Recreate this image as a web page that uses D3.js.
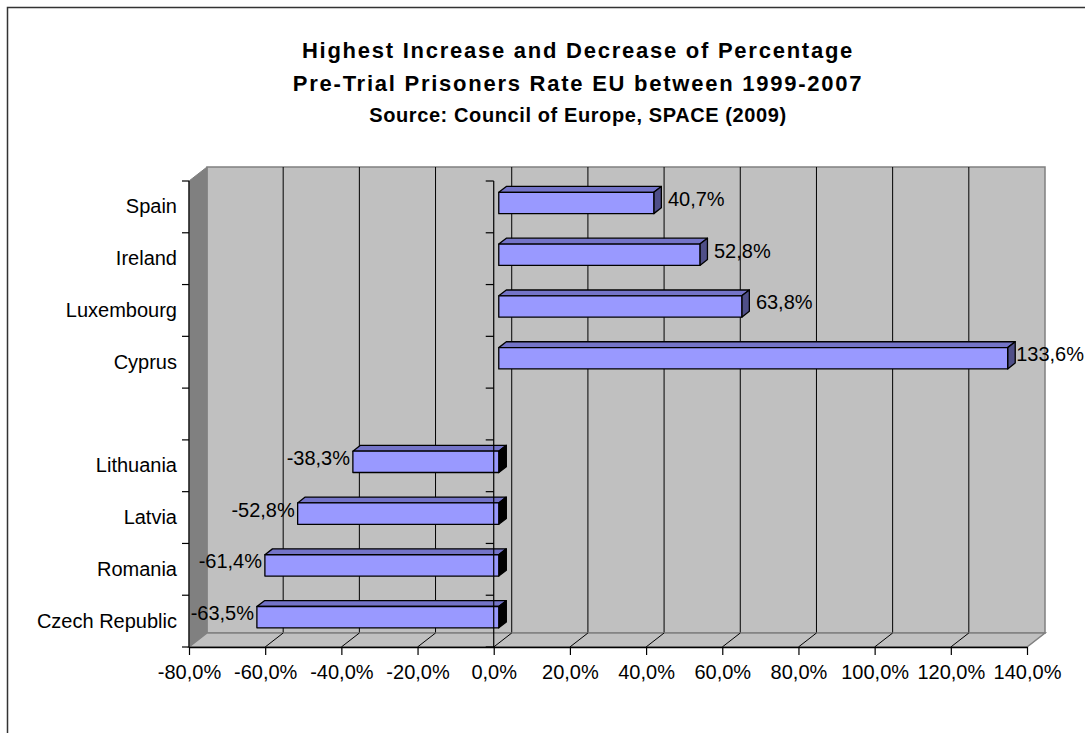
<!DOCTYPE html>
<html>
<head>
<meta charset="utf-8">
<script src="https://cdn.jsdelivr.net/npm/d3@7"></script>
<style>
  html, body { margin: 0; padding: 0; background: #fff; }
  svg { display: block; }
  text { font-family: "Liberation Sans", Arial, sans-serif; fill: #000; }
</style>
</head>
<body>
<svg id="chart" width="1085" height="733"></svg>
<script>
// Countries with the highest increase / decrease of the pre-trial prisoners rate
const increaseCountries = ["Spain", "Ireland", "Luxembourg", "Cyprus"];
const increaseValues = [40.7, 52.8, 63.8, 133.6];
const decreaseCountries = ["Lithuania", "Latvia", "Romania", "Czech Republic"];
const decreaseValues = [-38.3, -52.8, -61.4, -63.5];
const xTicks = [-80, -60, -40, -20, 0, 20, 40, 60, 80, 100, 120, 140];
const titleLines = [
  "Highest Increase and Decrease of Percentage",
  "Pre-Trial Prisoners Rate EU between 1999-2007"
];
const subtitle = "Source: Council of Europe, SPACE (2009)";

// one empty slot separates the two groups
const slots = [...increaseCountries, "", ...decreaseCountries];
const bars = increaseCountries.map((c, i) => ({ country: c, value: increaseValues[i] }))
  .concat(decreaseCountries.map((c, i) => ({ country: c, value: decreaseValues[i] })));

const locale = d3.formatLocale({ decimal: ",", thousands: ".", grouping: [3], currency: ["", "€"], minus: "-" });
const pct = v => locale.format(".1f")(v) + "%";

const svg = d3.select("#chart");

// front plane of the 3D box and its depth offset
const x = d3.scaleLinear().domain([-80, 140]).range([189, 1027]);
const y = d3.scaleBand().domain(slots).range([181, 647]).padding(0);
const yTop = y.range()[0], yBottom = y.range()[1];
const dX = 18, dY = -14;          // wall depth
const f0 = 0.28, f1 = 0.7;        // bar front / back depth fraction
const barHalf = y.bandwidth() * 0.206;

// outer frame
svg.append("rect")
  .attr("x", 7.5).attr("y", 7.5).attr("width", 1100).attr("height", 760)
  .attr("fill", "none").attr("stroke", "#333").attr("stroke-width", 1.5);

// titles
const tx = 578;
svg.append("text").attr("x", tx).attr("y", 58).attr("text-anchor", "middle")
  .style("font-size", "22px").style("font-weight", "bold").style("letter-spacing", "1.75px")
  .text(titleLines[0]);
svg.append("text").attr("x", tx).attr("y", 91).attr("text-anchor", "middle")
  .style("font-size", "22px").style("font-weight", "bold").style("letter-spacing", "1.75px")
  .text(titleLines[1]);
svg.append("text").attr("x", tx).attr("y", 122).attr("text-anchor", "middle")
  .style("font-size", "20px").style("font-weight", "bold").style("letter-spacing", "0.6px")
  .text(subtitle);

const xL = x.range()[0], xR = x.range()[1];
const poly = pts => pts.map(p => p.join(",")).join(" ");

// back wall
svg.append("rect")
  .attr("x", xL + dX).attr("y", yTop + dY)
  .attr("width", xR - xL).attr("height", yBottom - yTop)
  .attr("fill", "#c0c0c0").attr("stroke", "#808080").attr("stroke-width", 1.5);

// back wall gridlines
svg.append("g").selectAll("line")
  .data(xTicks.slice(1, -1))
  .join("line")
  .attr("x1", d => x(d) + dX).attr("x2", d => x(d) + dX)
  .attr("y1", yTop + dY).attr("y2", yBottom + dY)
  .attr("stroke", "#000").attr("stroke-width", 1);

// left side wall
svg.append("polygon")
  .attr("points", poly([[xL, yTop], [xL + dX, yTop + dY], [xL + dX, yBottom + dY], [xL, yBottom]]))
  .attr("fill", "#808080").attr("stroke", "#808080").attr("stroke-width", 1);

// floor
svg.append("polygon")
  .attr("points", poly([[xL, yBottom], [xL + dX, yBottom + dY], [xR + dX, yBottom + dY], [xR, yBottom]]))
  .attr("fill", "#c0c0c0").attr("stroke", "#808080").attr("stroke-width", 1.5);
svg.append("g").selectAll("line")
  .data(xTicks.slice(1, -1))
  .join("line")
  .attr("x1", d => x(d)).attr("x2", d => x(d) + dX)
  .attr("y1", yBottom).attr("y2", yBottom + dY)
  .attr("stroke", "#000").attr("stroke-width", 1);

// 3D bars
const gBars = svg.append("g").attr("stroke", "#000").attr("stroke-width", 1.3).attr("stroke-linejoin", "round");
bars.forEach(d => {
  const cy = y(d.country) + y.bandwidth() / 2;
  const xa = Math.min(x(0), x(d.value)), xb = Math.max(x(0), x(d.value));
  const yt = cy - barHalf, yb = cy + barHalf;
  const P = (px, py, f) => [px + f * dX, py + f * dY];
  // top face
  gBars.append("polygon")
    .attr("points", poly([P(xa, yt, f0), P(xb, yt, f0), P(xb, yt, f1), P(xa, yt, f1)]))
    .attr("fill", "#7474c8");
  // right end face
  gBars.append("polygon")
    .attr("points", poly([P(xb, yt, f0), P(xb, yt, f1), P(xb, yb, f1), P(xb, yb, f0)]))
    .attr("fill", d.value >= 0 ? "#4f4f88" : "#000");
  // front face
  const a = P(xa, yt, f0), b = P(xb, yb, f0);
  gBars.append("rect")
    .attr("x", a[0]).attr("y", a[1]).attr("width", b[0] - a[0]).attr("height", b[1] - a[1])
    .attr("fill", "#9999ff");
});

// category boundaries for ticks
const bounds = slots.map(s => y(s)).concat([yBottom]);

// zero axis with ticks
const gZero = svg.append("g");
gZero.append("line")
  .attr("x1", x(0)).attr("x2", x(0)).attr("y1", yTop).attr("y2", yBottom)
  .attr("stroke", "#000").attr("stroke-width", 1.2);
gZero.selectAll(".t").data(bounds).join("line")
  .attr("x1", x(0) - 8).attr("x2", x(0)).attr("y1", d => d).attr("y2", d => d)
  .attr("stroke", "#000").attr("stroke-width", 1.2);

// left front edge with ticks
const gLeft = svg.append("g");
gLeft.append("line")
  .attr("x1", xL).attr("x2", xL).attr("y1", yTop).attr("y2", yBottom)
  .attr("stroke", "#000").attr("stroke-width", 1.2);
gLeft.selectAll(".t").data(bounds).join("line")
  .attr("x1", xL - 7).attr("x2", xL).attr("y1", d => d).attr("y2", d => d)
  .attr("stroke", "#000").attr("stroke-width", 1.2);

// category labels
const yAxis = d3.axisLeft(y).tickSize(0).tickPadding(12);
const gy = svg.append("g").attr("transform", `translate(${xL},0)`).call(yAxis);
gy.select(".domain").remove();
gy.selectAll("text").style("font-size", "20px").style("font-family", "'Liberation Sans', Arial, sans-serif");

// value axis
const xAxis = d3.axisBottom(x).tickValues(xTicks).tickFormat(pct)
  .tickSize(8).tickSizeOuter(0).tickPadding(10);
const gx = svg.append("g").attr("transform", `translate(0,${yBottom})`).call(xAxis);
gx.select(".domain").attr("stroke", "#000").attr("stroke-width", 1.5);
gx.selectAll(".tick line").attr("stroke", "#000").attr("stroke-width", 1.2);
gx.selectAll("text").style("font-size", "20px").style("font-family", "'Liberation Sans', Arial, sans-serif");

// data labels
svg.append("g").selectAll("text")
  .data(bars)
  .join("text")
  .attr("x", d => x(d.value) + 9 + (d.value >= 0 ? 38.5 : -38.5))
  .attr("y", d => y(d.country) + y.bandwidth() / 2 - 1)
  .attr("text-anchor", "middle")
  .style("font-size", "20px")
  .text(d => pct(d.value));
</script>
</body>
</html>
